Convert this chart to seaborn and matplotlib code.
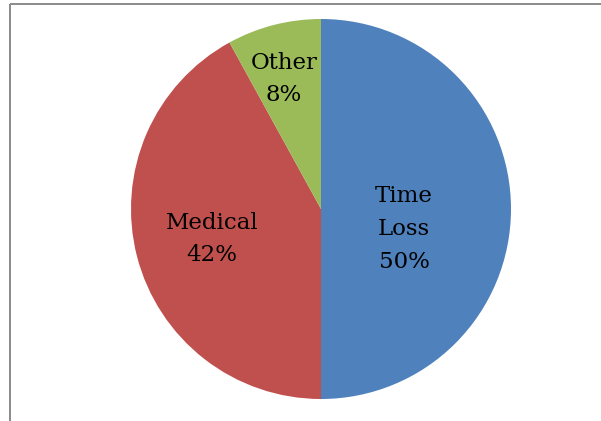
import matplotlib
matplotlib.use("Agg")
import matplotlib.pyplot as plt
import seaborn as sns

# Share of cases by category
categories = ["Time\nLoss", "Medical", "Other"]
shares = [50, 42, 8]
colors = ["#4F81BD", "#C0504D", "#9BBB59"]

sns.set_theme(style="white")
plt.rcParams["font.family"] = ["DejaVu Serif"]

W, H = 601, 421
fig = plt.figure(figsize=(W / 100, H / 100), dpi=100)
ax = fig.add_axes([0, 0, 1, 1])

cx, cy, r = 321, H - 209, 190
wedges, _ = ax.pie(shares, colors=colors, startangle=90, counterclock=False,
                   center=(cx, cy), radius=r,
                   wedgeprops=dict(linewidth=0))
ax.set_xlim(0, W)
ax.set_ylim(0, H)
ax.set_aspect("equal")
ax.axis("off")

# Label anchors (pixel offsets from the pie centre)
label_offsets = [(83, -20), (-109, -30), (-37, 130)]
for name, val, (dx, dy) in zip(categories, shares, label_offsets):
    ax.text(cx + dx, cy + dy, f"{name}\n{val}%", ha="center", va="center",
            fontsize=16.5, color="black", linespacing=1.62)

# Chart area border
border = "#8A8A8A"
ax.plot([10, 10], [-5, H - 4], color=border, lw=1.4, solid_capstyle="butt")
ax.plot([10, W + 5], [H - 4, H - 4], color=border, lw=1.4, solid_capstyle="butt")

fig.savefig("out.png", dpi=100)
